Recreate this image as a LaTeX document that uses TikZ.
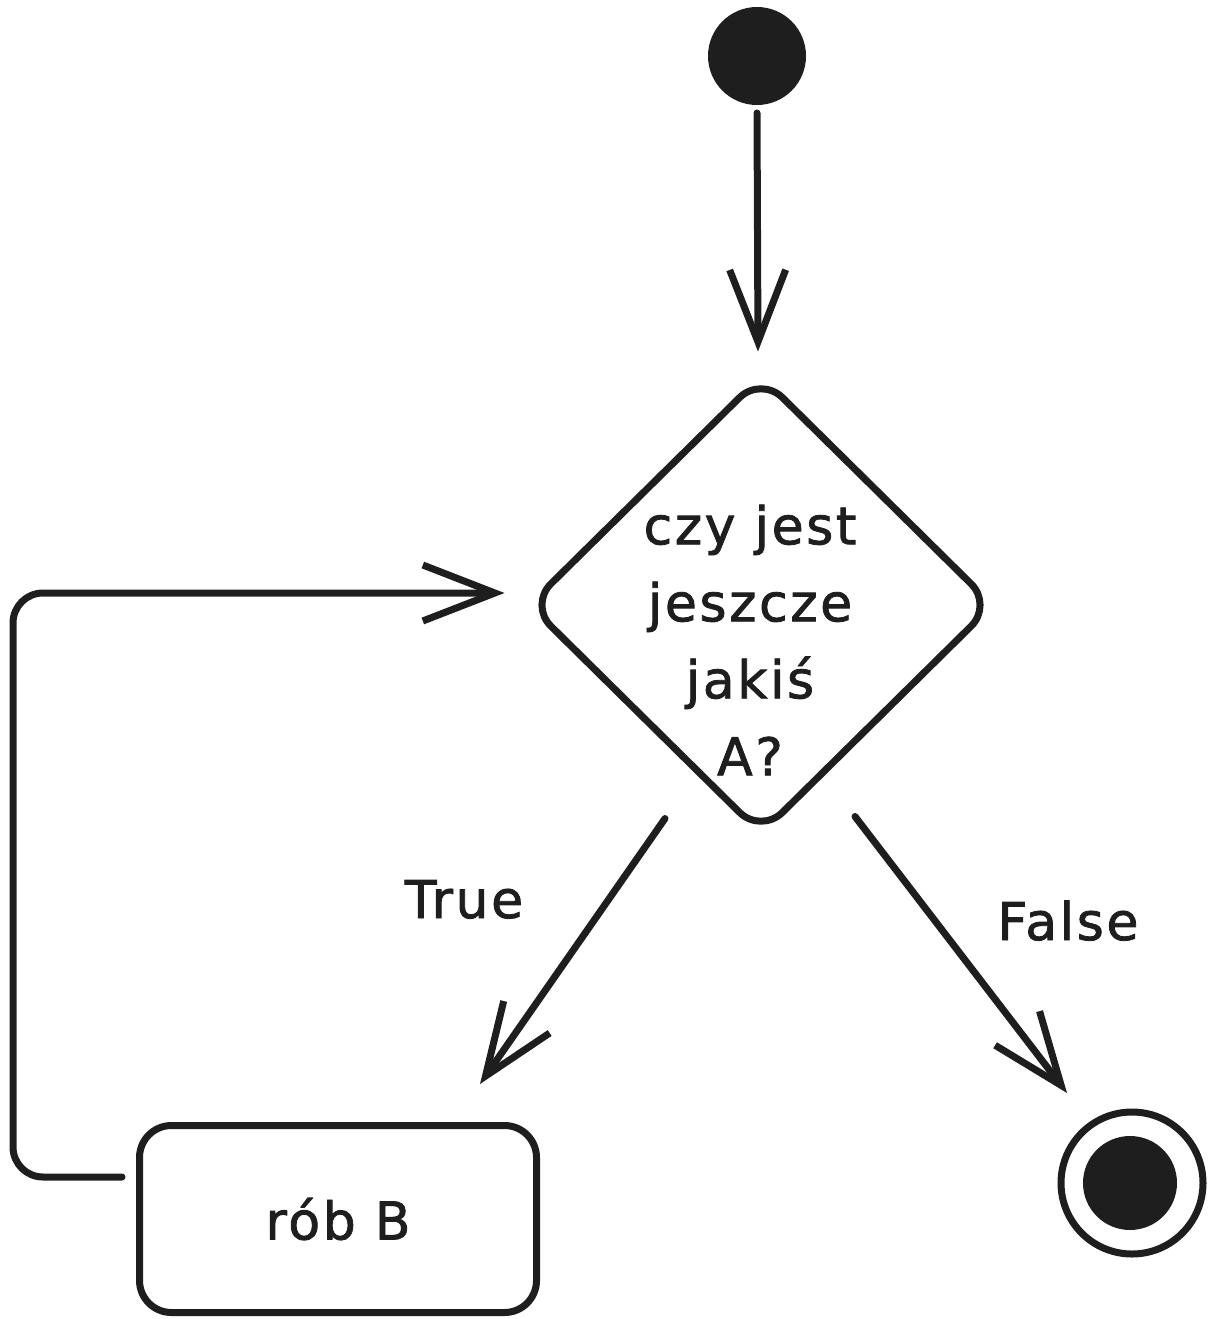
\documentclass[tikz,border=0pt]{standalone}
\usepackage{fontspec}
\newfontfamily\handfont[LetterSpace=5,FakeBold=1.6]{DejaVu Sans}
\usetikzlibrary{shapes.geometric,arrows.meta,calc}
\definecolor{ink}{HTML}{1E1E1E}
\begin{document}
\begin{tikzpicture}[x=1pt,y=-1pt,
  inkline/.style={draw=ink, line width=7pt, line cap=round, line join=round},
  arr/.style={inkline, -{Straight Barb[length=72pt,width=56pt]}},
  txt/.style={text=ink, font=\handfont\fontsize{52}{77}\selectfont},
]
\useasboundingbox (0,0) rectangle (1211,1319);

% start
\node[circle, fill=ink, draw=ink, line width=4pt, minimum size=94pt, inner sep=0pt] (start) at (757,56) {};

% decision
\node[diamond, inkline, rounded corners=30pt, minimum width=466pt, minimum height=460pt, inner sep=0pt] (dec) at (761,605) {};
\node[txt, align=center] (q) at (750,640) {czy jest\\jeszcze\\jakiś\\A?};

% action
\node[inkline, rounded corners=32pt, minimum width=397pt, minimum height=187pt, inner sep=0pt, txt] (rob) at (338,1219) {rób B};

% end
\node[circle, inkline, minimum size=142pt, inner sep=0pt] (endring) at (1132,1183) {};
\node[circle, fill=ink, minimum size=94pt, inner sep=0pt] (enddot) at (1130,1183) {};

% connectors
\draw[arr] ([shift={(0,8)}]start.south) -- ([shift={(-3,-20)}]dec.north);
\draw[arr] ([shift={(-96,-20)}]dec.south) -- ([shift={(142,-38)}]rob.north);
\draw[arr] ([shift={(94,-22)}]dec.south) -- ([shift={(-65,-90)}]endring.center);
\draw[arr, rounded corners=30pt] ([shift={(-14,-42)}]rob.west) -- ++(-109,0) |- ([shift={(-20,-12)}]dec.west);

% labels
\node[txt, anchor=base] (ltrue) at (464,918) {True};
\node[txt, anchor=base] (lfalse) at (1068,940) {False};
\end{tikzpicture}
\end{document}
